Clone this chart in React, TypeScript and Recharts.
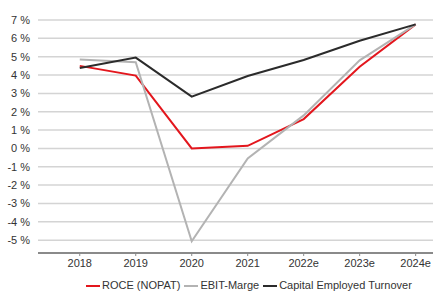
import { CartesianGrid, Line, LineChart, XAxis, YAxis } from 'recharts'

const years = ['2018', '2019', '2020', '2021', '2022e', '2023e', '2024e']
const roce = [4.5, 3.97, 0.0, 0.14, 1.6, 4.45, 6.76]
const ebitMarge = [4.85, 4.7, -5.06, -0.55, 1.8, 4.8, 6.76]
const capitalTurnover = [4.38, 4.95, 2.82, 3.95, 4.82, 5.87, 6.76]
const yTicks = [-5, -4, -3, -2, -1, 0, 1, 2, 3, 4, 5, 6, 7]

const seriesInfo = [
  { key: 'roce', name: 'ROCE (NOPAT)', color: '#e3161d' },
  { key: 'ebit', name: 'EBIT-Marge', color: '#b3b3b3' },
  { key: 'cet', name: 'Capital Employed Turnover', color: '#2b2b2b' },
]

const data = years.map((year, i) => ({
  x: i,
  year,
  roce: roce[i],
  ebit: ebitMarge[i],
  cet: capitalTurnover[i],
}))

const FONT = 'Arial, "Liberation Sans", sans-serif'

function LegendRow() {
  return (
    <div
      style={{
        position: 'absolute',
        left: 86,
        top: 279,
        display: 'flex',
        alignItems: 'center',
        fontFamily: FONT,
        fontSize: 11,
        lineHeight: '13px',
        color: '#333',
        whiteSpace: 'nowrap',
      }}
    >
      {seriesInfo.map((s) => (
        <span key={s.key} style={{ display: 'inline-flex', alignItems: 'center', marginRight: 4 }}>
          <span
            style={{
              display: 'inline-block',
              width: 14,
              height: 2,
              background: s.color,
              marginRight: 2,
            }}
          />
          {s.name}
        </span>
      ))}
    </div>
  )
}

export default function App() {
  return (
    <div
      style={{
        position: 'absolute',
        left: 0,
        top: 0,
        width: 433,
        height: 291,
        overflow: 'hidden',
        background: '#fff',
      }}
    >
      <LineChart
        width={433}
        height={291}
        data={data}
        margin={{ top: 20, right: 0, left: 0, bottom: 14 }}
      >
        <CartesianGrid stroke="#d4d4d4" strokeWidth={1.5} vertical={false} />
        <XAxis
          dataKey="x"
          type="number"
          height={24}
          domain={[-0.746, 6.31]}
          ticks={[0, 1, 2, 3, 4, 5, 6]}
          interval={0}
          tickFormatter={(v: number) => years[v] ?? ''}
          allowDataOverflow
          axisLine={{ stroke: '#8a8a8a', strokeWidth: 2 }}
          tickLine={{ stroke: '#8a8a8a' }}
          tickSize={3}
          tick={{ fill: '#333', fontSize: 11, fontFamily: FONT }}
          tickMargin={3}
        />
        <YAxis
          width={38}
          domain={[-5.7, 7]}
          ticks={yTicks}
          interval={0}
          allowDataOverflow
          axisLine={false}
          tickLine={false}
          tickFormatter={(v: number) => `${v} %`}
          tick={{ fill: '#333', fontSize: 11, fontFamily: FONT }}
          tickMargin={2}
        />
        {seriesInfo.map((s) => (
          <Line
            key={s.key}
            dataKey={s.key}
            name={s.name}
            stroke={s.color}
            strokeWidth={2}
            dot={false}
            type="linear"
            isAnimationActive={false}
          />
        ))}
      </LineChart>
      <LegendRow />
    </div>
  )
}
